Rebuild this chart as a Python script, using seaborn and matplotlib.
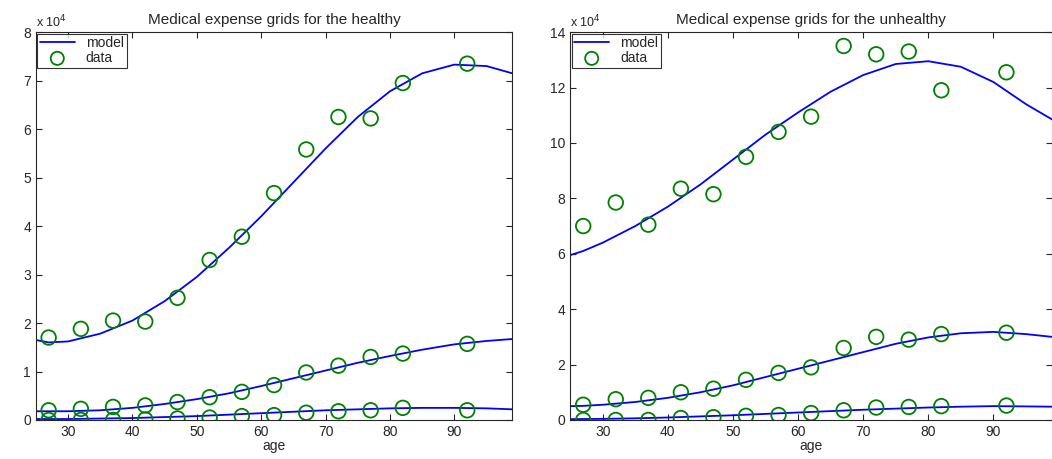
import numpy as np
import pandas as pd
import seaborn as sns
import matplotlib
matplotlib.use("Agg")
import matplotlib.pyplot as plt

sns.set_style("ticks")
plt.rcParams['font.family'] = ['Liberation Sans', 'DejaVu Sans']
plt.rcParams['xtick.direction'] = 'in'
plt.rcParams['ytick.direction'] = 'in'

ages = [27, 32, 37, 42, 47, 52, 57, 62, 67, 72, 77, 82, 92]
m_ages = [25, 27, 30, 35, 40, 45, 50, 55, 60, 65, 70, 75, 80, 85, 90, 95, 99]

h_data = [
    [17000, 18800, 20500, 20300, 25200, 33000, 37800, 46800, 55800, 62500, 62200, 69500, 73500],
    [2000, 2300, 2700, 3000, 3700, 4700, 5800, 7200, 9800, 11200, 13000, 13700, 15700],
    [0, 0, 0, 100, 300, 500, 800, 1000, 1500, 1800, 2000, 2500, 2000],
]
h_model = [
    [16500, 16000, 16200, 17800, 20500, 24500, 29500, 35500, 42000, 49000, 56000, 62500, 67800, 71500, 73300, 73000, 71500],
    [1800, 1800, 1800, 2000, 2500, 3300, 4300, 5500, 7000, 8600, 10200, 11800, 13200, 14500, 15600, 16300, 16700],
    [200, 200, 200, 300, 400, 600, 800, 1100, 1400, 1700, 2000, 2200, 2400, 2500, 2500, 2400, 2200],
]
u_data = [
    [70000, 78500, 70500, 83500, 81500, 95000, 104000, 109500, 135000, 132000, 133000, 119000, 125500],
    [5500, 7500, 8000, 10000, 11300, 14500, 17000, 19000, 26000, 30000, 29000, 31000, 31500],
    [0, 0, 0, 700, 1000, 1500, 1800, 2500, 3500, 4500, 4700, 5000, 5200],
]
u_model = [
    [59500, 61000, 64000, 70000, 77000, 85000, 94000, 103000, 111000, 118500, 124500, 128500, 129500, 127500, 122000, 114000, 108500],
    [5000, 5100, 5500, 6500, 8000, 10000, 12500, 15500, 18500, 21500, 24500, 27500, 29800, 31300, 31800, 31000, 30000],
    [300, 350, 400, 600, 900, 1300, 1700, 2200, 2700, 3200, 3700, 4100, 4500, 4800, 5000, 4900, 4800],
]

fig = plt.figure(figsize=(10.52, 4.59), dpi=100)
ax1 = fig.add_axes([0.034, 0.085, 0.453, 0.845])
ax2 = fig.add_axes([0.542, 0.085, 0.458, 0.845])

def draw(ax, data, model, ymax, yticks, title):
    for i, (d, m) in enumerate(zip(data, model)):
        sns.lineplot(x=m_ages, y=m, ax=ax, color='#0000ff', lw=1.3,
                     label='model' if i == 0 else None)
        sns.scatterplot(x=ages, y=d, ax=ax, marker='o', s=110, facecolors='none',
                        edgecolor='#008000', linewidth=1.3, color='#008000',
                        label='data' if i == 0 else None, zorder=3)
    ax.set_xlim(25, 99)
    ax.set_ylim(0, ymax)
    ax.set_xticks([30, 40, 50, 60, 70, 80, 90])
    ax.set_yticks(yticks)
    ax.set_yticklabels([str(int(v / 1e4)) for v in yticks])
    ax.set_xlabel('age', fontsize=10, labelpad=0)
    ax.set_title(title, fontsize=11, pad=6)
    ax.text(0, 1.005, r'x 10$^4$', transform=ax.transAxes, fontsize=9, va='bottom')
    ax.tick_params(labelsize=10, top=True, right=True, length=4)
    for s in ax.spines.values():
        s.set_visible(True)
        s.set_linewidth(0.8)
    leg = ax.legend(loc='upper left', fontsize=10, frameon=True, fancybox=False,
                    borderaxespad=0.1, handlelength=2.5, borderpad=0.2,
                    labelspacing=0.05, markerscale=0.9)
    leg.get_frame().set_edgecolor('black')
    leg.get_frame().set_linewidth(0.8)
    for h in leg.legend_handles:
        try:
            h.set_facecolor('none')
        except Exception:
            pass

draw(ax1, h_data, h_model, 80000, list(range(0, 80001, 10000)),
     'Medical expense grids for the healthy')
draw(ax2, u_data, u_model, 140000, list(range(0, 140001, 20000)),
     'Medical expense grids for the unhealthy')

fig.savefig('out.png', dpi=100)
